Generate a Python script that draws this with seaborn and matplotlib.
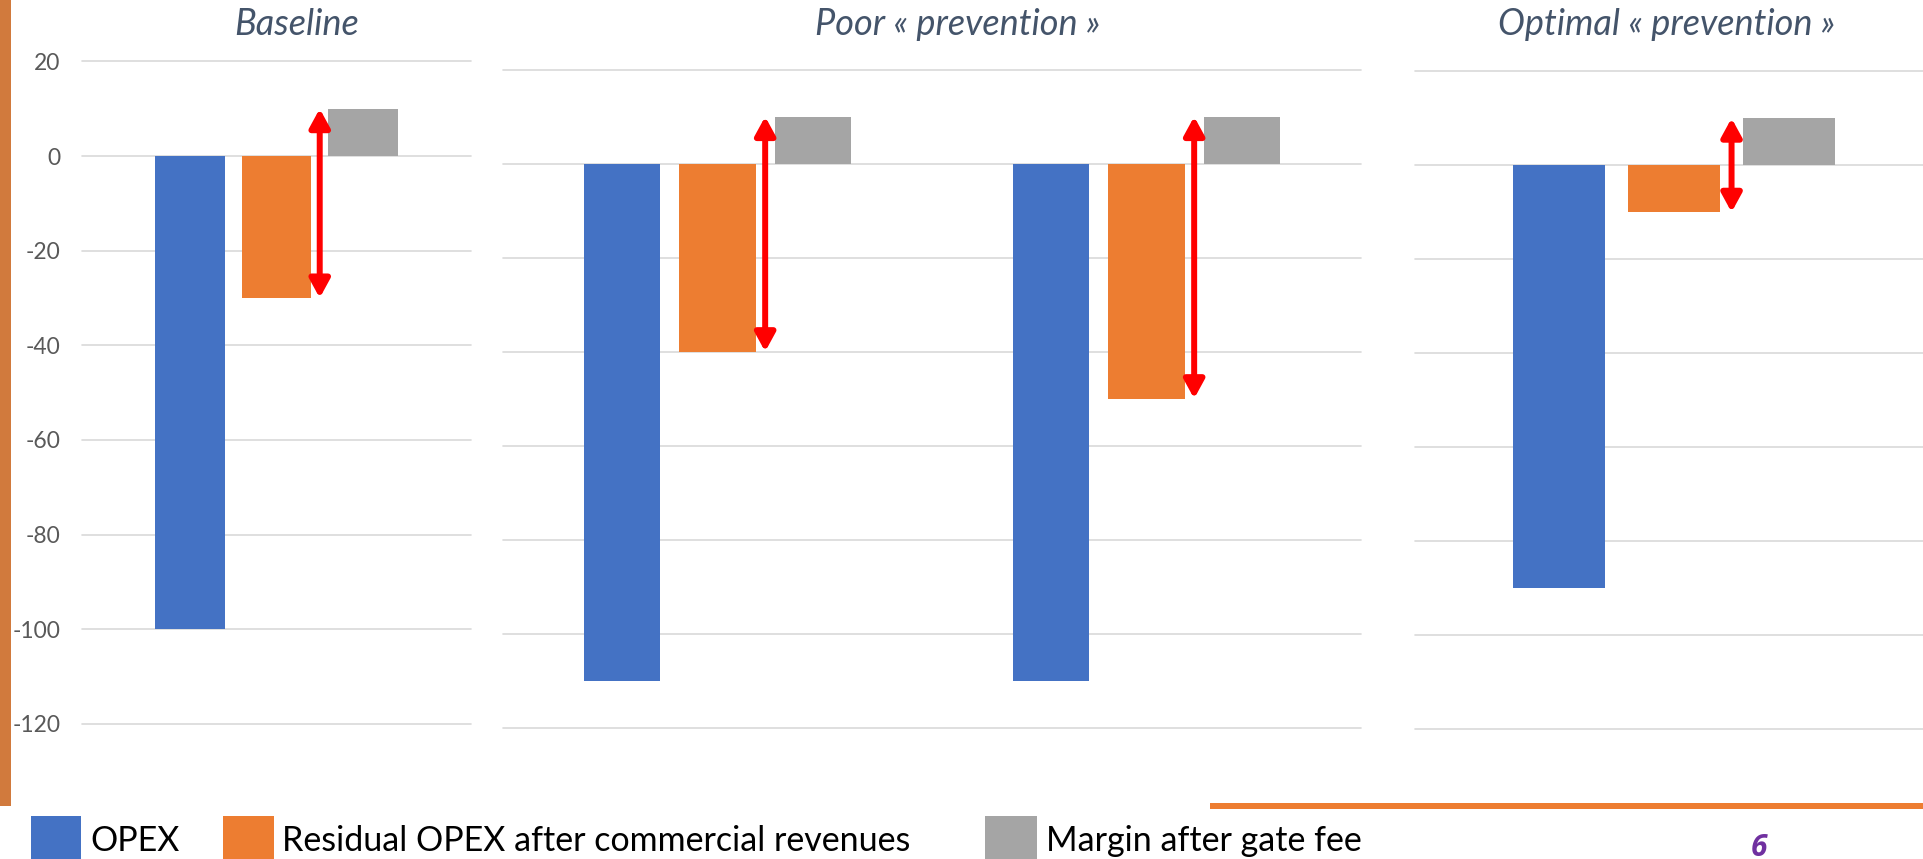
import numpy as np
import pandas as pd
import matplotlib
matplotlib.use("Agg")
import matplotlib.pyplot as plt
from matplotlib.patches import Rectangle
import seaborn as sns

# ---------------- data ----------------
series = ["OPEX", "Residual OPEX after commercial revenues", "Margin after gate fee"]
series_colors = ["#4472C4", "#ED7D31", "#A5A5A5"]

panel_titles = ["Baseline", "Poor « prevention »", "Optimal « prevention »"]

baseline_cases = ["Baseline"]
baseline_opex = [-100]
baseline_residual = [-30]
baseline_margin = [10]

poor_cases = ["Poor prevention 1", "Poor prevention 2"]
poor_opex = [-110, -110]
poor_residual = [-40, -50]
poor_margin = [10, 10]

optimal_cases = ["Optimal prevention"]
optimal_opex = [-90]
optimal_residual = [-10]
optimal_margin = [10]

y_ticks = [20, 0, -20, -40, -60, -80, -100, -120]
y_tick_labels = ["20", "0", "-20", "-40", "-60", "-80", "-100", "-120"]
page_number = "6"

# ---------------- style ----------------
sns.set_style("white")
plt.rcParams["font.family"] = ["Lato", "DejaVu Sans"]

W, H = 1923, 859
fig = plt.figure(figsize=(W / 100, H / 100), dpi=100)
fig.patch.set_facecolor("white")


def px_axes(left, top, right, bottom):
    return fig.add_axes([left / W, 1 - bottom / H, (right - left) / W, (bottom - top) / H])


def frame(cases, opex, residual, margin):
    rows = []
    for name, vals in zip(series, (opex, residual, margin)):
        for c, v in zip(cases, vals):
            rows.append({"case": c, "series": name, "value": v})
    return pd.DataFrame(rows)


panels = [
    (baseline_cases, baseline_opex, baseline_residual, baseline_margin, (82, 61.4, 471, 723.8), 296.5),
    (poor_cases, poor_opex, poor_residual, poor_margin, (503, 69.6, 1361, 727.7), 958),
    (optimal_cases, optimal_opex, optimal_residual, optimal_margin, (1415, 71.2, 1933, 729.3), 1667),
]

for k, (cases, opex, residual, margin, box, title_x) in enumerate(panels):
    ax = px_axes(*box)
    df = frame(cases, opex, residual, margin)
    sns.barplot(data=df, x="case", y="value", hue="series", order=cases,
                hue_order=series, palette=series_colors, width=2 / 3, gap=0.2,
                saturation=1, errorbar=None, linewidth=0, legend=False, ax=ax)
    ax.set_ylim(-120, 20)
    ax.set_yticks(y_ticks)
    ax.set_axisbelow(True)
    ax.yaxis.grid(True, color="#D9D9D9", lw=1.2)
    ax.xaxis.grid(False)
    for gl in ax.get_ygridlines():
        gl.set_clip_on(False)
    for s in ax.spines.values():
        s.set_visible(False)
    ax.set_xlabel("")
    ax.set_ylabel("")
    ax.set_xticks(range(len(cases)))
    ax.set_xticklabels([])
    ax.tick_params(axis="x", length=0)
    if k == 0:
        ax.set_yticklabels(y_tick_labels)
        ax.tick_params(axis="y", length=0, pad=15.5, labelsize=16.5, labelcolor="#595959")
    else:
        ax.set_yticklabels([])
        ax.tick_params(axis="y", length=0)
    ax.patch.set_alpha(0)

    # double-headed red arrows between residual OPEX and margin
    for i in range(len(cases)):
        ob = ax.containers[1][i]
        gb = ax.containers[2][i]
        xa = (ob.get_x() + ob.get_width() + gb.get_x()) / 2
        ax.annotate("", xy=(xa, margin[i]), xytext=(xa, residual[i]), xycoords="data",
                    arrowprops=dict(arrowstyle="<|-|>,head_length=1.1,head_width=0.6",
                                    color="#FF0000", lw=4.3, shrinkA=0, shrinkB=0,
                                    mutation_scale=10),
                    annotation_clip=False)

    fig.text(title_x / W, 1 - 35 / H, panel_titles[k], ha="center", va="baseline",
             fontsize=26, style="italic", color="#44546A")

# left decorative bar
fig.add_artist(Rectangle((0, 1 - 806 / H), 11 / W, 806 / H, transform=fig.transFigure,
                         facecolor="#D17A3D", edgecolor="none"))
# bottom-right orange rule
fig.add_artist(Rectangle((1210 / W, 1 - 809.3 / H), (W - 1210) / W, 6 / H,
                         transform=fig.transFigure, facecolor="#ED7D31", edgecolor="none"))

# legend
leg_sq = [(30.6, 81.4), (223, 274.3), (984.6, 1036.8)]
leg_tx = [90.6, 282.3, 1046]
for (x0, x1), tx, name, col in zip(leg_sq, leg_tx, series, series_colors):
    fig.add_artist(Rectangle((x0 / W, 0), (x1 - x0) / W, (H - 816) / H,
                             transform=fig.transFigure, facecolor=col, edgecolor="none"))
    fig.text(tx / W, 1 - 850.7 / H, name, ha="left", va="baseline", fontsize=24.5, color="black")

# page number
fig.text(1758.5 / W, 1 - 855.7 / H, page_number, ha="center", va="baseline",
         fontsize=21.5, fontweight="bold", style="italic", color="#7030A0",
         family=["Open Sans", "DejaVu Sans"])

fig.savefig("out.png", dpi=100, facecolor="white")
